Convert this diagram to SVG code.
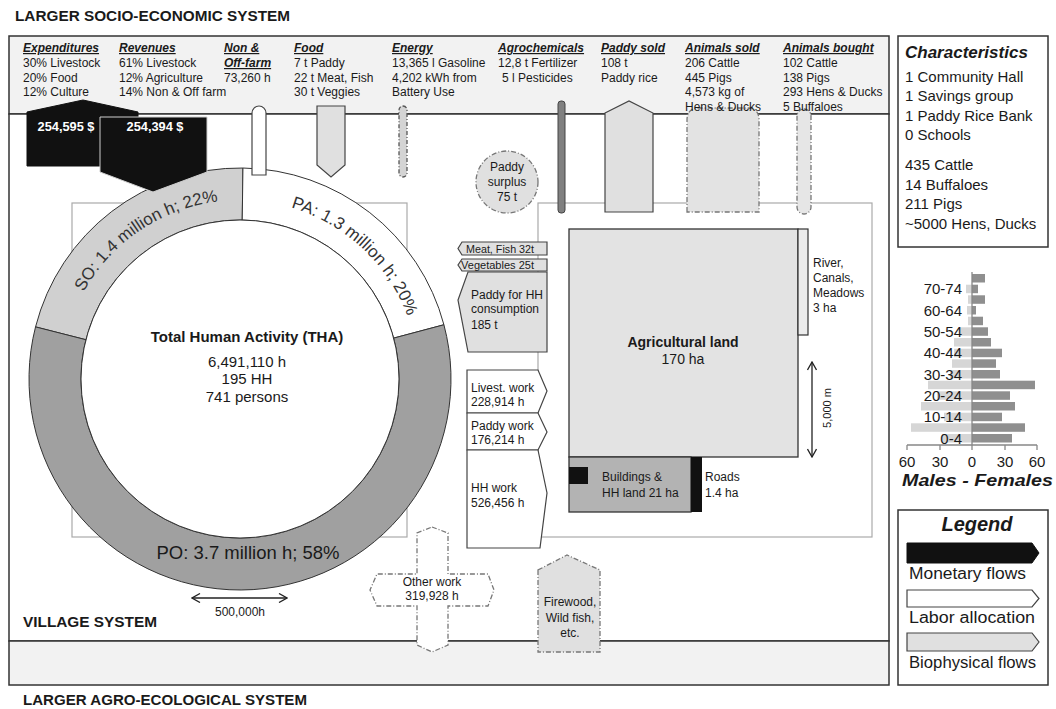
<svg xmlns="http://www.w3.org/2000/svg" width="1056" height="709" viewBox="0 0 1056 709">
<defs>
<style>
text{font-family:"Liberation Sans",Arial,sans-serif;fill:#1a1a1a}
.f12{font-size:12px}
.f11{font-size:11px}
.hd{font-size:12px;font-weight:bold;font-style:italic;text-decoration:underline}
.b{font-weight:bold}
.frame{fill:none;stroke:#333;stroke-width:1.5}
.sq{fill:none;stroke:#aaa;stroke-width:1.2}
.mon{fill:#111;stroke:#111}
.lab{fill:#fff;stroke:#444;stroke-width:1.2}
.bio{fill:#e0e0e0;stroke:#444;stroke-width:1.2}
.dash{stroke:#777;stroke-width:1.3;stroke-dasharray:5 2 1 2}
.ch{font-size:15px}
.pyl{font-size:15px;text-anchor:end}
.tk{font-size:15px;text-anchor:middle}
.fem{fill:#8f8f8f}
.mal{fill:#d6d6d6}
.ring{font-size:17px;fill:#333}
</style>
<marker id="chev" viewBox="0 0 10 10" refX="9" refY="5" markerWidth="10" markerHeight="10" markerUnits="userSpaceOnUse" orient="auto-start-reverse">
<path d="M1,0.5 L9,5 L1,9.5" fill="none" stroke="#222" stroke-width="1.3"/>
</marker>
<path id="soPath" d="M83.45,465.78 A179,179 0 0 1 379.10,266.35"/>
<path id="paPath" d="M120.23,245.98 A179,179 0 0 1 381.05,489.21"/>
</defs>

<text x="15" y="21" class="b" font-size="15" textLength="275" lengthAdjust="spacingAndGlyphs">LARGER SOCIO-ECONOMIC SYSTEM</text>
<text x="23" y="705" class="b" font-size="14" textLength="284" lengthAdjust="spacingAndGlyphs">LARGER AGRO-ECOLOGICAL SYSTEM</text>

<g id="frame">
<rect x="9" y="36" width="880" height="78" fill="#f2f2f2" stroke="#333" stroke-width="1.5"/>
<rect x="9" y="114" width="880" height="527" fill="#fff" stroke="#333" stroke-width="1.5"/>
<rect x="9" y="641" width="880" height="44" fill="#f2f2f2" stroke="#333" stroke-width="1.5"/>
</g>

<g id="connectors">
<rect class="sq" x="72" y="203" width="335" height="334"/>
<rect class="sq" x="538" y="203" width="334" height="334"/>
<line x1="192" y1="598" x2="287" y2="598" stroke="#222" stroke-width="1.3" marker-start="url(#chev)" marker-end="url(#chev)"/>
<line x1="812" y1="362" x2="812" y2="457" stroke="#222" stroke-width="1.3" marker-start="url(#chev)" marker-end="url(#chev)"/>
</g>
<text x="240" y="616" class="f12" text-anchor="middle">500,000h</text>
<text transform="translate(831,408) rotate(-90)" class="f11" text-anchor="middle">5,000 m</text>
<text x="23" y="627" class="b" font-size="15" textLength="134" lengthAdjust="spacingAndGlyphs">VILLAGE SYSTEM</text>

<g id="tha">
<path d="M35.54,326.88 A211,211 0 0 1 242.95,168.02 L242.22,220.02 A159,159 0 0 0 85.93,339.73 Z" fill="#d0d0d0" stroke="#333" stroke-width="1"/>
<path d="M242.95,168.02 A211,211 0 0 1 443.91,324.75 L393.66,338.12 A159,159 0 0 0 242.22,220.02 Z" fill="#fff" stroke="#333" stroke-width="1"/>
<path d="M443.91,324.75 A211,211 0 1 1 35.54,326.88 L85.93,339.73 A159,159 0 1 0 393.66,338.12 Z" fill="#a0a0a0" stroke="#333" stroke-width="1"/>
<circle cx="240" cy="379" r="159" fill="#fff" stroke="#333" stroke-width="1"/>
<text class="ring"><textPath href="#soPath" startOffset="50%" text-anchor="middle">SO: 1.4 million h; 22%</textPath></text>
<text class="ring"><textPath href="#paPath" startOffset="50%" text-anchor="middle">PA: 1.3 million h; 20%</textPath></text>
<text x="248" y="559" font-size="19" fill="#333" text-anchor="middle" textLength="183" lengthAdjust="spacingAndGlyphs">PO: 3.7 million h; 58%</text>
<text x="247" y="342" font-size="15" class="b" text-anchor="middle">Total Human Activity (THA)</text>
<text x="247" y="367" font-size="15" text-anchor="middle">6,491,110 h</text>
<text x="247" y="384" font-size="15" text-anchor="middle">195 HH</text>
<text x="247" y="402" font-size="15" text-anchor="middle">741 persons</text>
</g>

<g id="expenditures-flow">
<polygon class="mon" points="27,112 83,100 138,112 138,166 27,166"/>
<text x="66" y="131" font-size="12" class="b" style="fill:#fff" text-anchor="middle" textLength="57" lengthAdjust="spacingAndGlyphs">254,595 $</text>
</g>
<g id="revenues-flow">
<polygon points="100,117 207,117 207,172 153,192 100,172" fill="#111" stroke="#cfcfcf" stroke-width="1"/>
<text x="155" y="131" font-size="12" class="b" style="fill:#fff" text-anchor="middle" textLength="57" lengthAdjust="spacingAndGlyphs">254,394 $</text>
</g>
<g id="offfarm-flow">
<path class="lab" d="M252,175 L252,113 A7,7 0 0 1 266,113 L266,175 Z"/>
</g>
<g id="food-flow">
<polygon class="bio" points="317,106 345,106 345,165 331,177 317,165"/>
</g>
<g id="energy-flow">
<rect x="399" y="106" width="8" height="71" rx="4" fill="#d4d4d4" stroke="#555" stroke-width="1.3" stroke-dasharray="4 2 1 2"/>
</g>
<g id="agrochem-flow">
<rect x="558" y="101" width="7" height="112" rx="3" fill="#808080" stroke="#444" stroke-width="1"/>
</g>
<g id="paddysold-flow">
<polygon class="bio" points="605,113 629,101 653,113 653,212 605,212" stroke-width="1.5"/>
</g>
<g id="animalssold-flow">
<path d="M687,212 L687,120 Q687,108 699,108 L747,108 Q759,108 759,120 L759,212 Z" fill="#e3e3e3" class="dash"/>
</g>
<g id="animalsbought-flow">
<rect x="797" y="109" width="14" height="105" rx="7" fill="#e6e6e6" class="dash"/>
</g>

<g id="top-band-text">
<text x="23" y="52" class="hd">Expenditures</text>
<text x="23" y="66.5" class="f12">30% Livestock</text>
<text x="23" y="81.5" class="f12">20% Food</text>
<text x="23" y="96" class="f12">12% Culture</text>
<text x="119" y="52" class="hd">Revenues</text>
<text x="119" y="66.5" class="f12">61% Livestock</text>
<text x="119" y="81.5" class="f12">12% Agriculture</text>
<text x="119" y="96" class="f12">14% Non &amp; Off farm</text>
<text x="224" y="52" class="hd">Non &amp;</text>
<text x="224" y="67" class="hd">Off-farm</text>
<text x="224" y="82" class="f12">73,260 h</text>
<text x="294" y="52" class="hd">Food</text>
<text x="294" y="67" class="f12">7 t Paddy</text>
<text x="294" y="82" class="f12">22 t Meat, Fish</text>
<text x="294" y="96" class="f12">30 t Veggies</text>
<text x="392" y="52" class="hd">Energy</text>
<text x="392" y="67" class="f12">13,365 l Gasoline</text>
<text x="392" y="82" class="f12">4,202 kWh from</text>
<text x="392" y="96" class="f12">Battery Use</text>
<text x="498" y="52" class="hd">Agrochemicals</text>
<text x="498" y="67" class="f12">12,8 t Fertilizer</text>
<text x="502" y="82" class="f12">5 l Pesticides</text>
<text x="601" y="52" class="hd">Paddy sold</text>
<text x="601" y="67" class="f12">108 t</text>
<text x="601" y="82" class="f12">Paddy rice</text>
<text x="685" y="52" class="hd">Animals sold</text>
<text x="685" y="67" class="f12">206 Cattle</text>
<text x="685" y="82" class="f12">445 Pigs</text>
<text x="685" y="96" class="f12">4,573 kg of</text>
<text x="685" y="111" class="f12">Hens &amp; Ducks</text>
<text x="783" y="52" class="hd">Animals bought</text>
<text x="783" y="67" class="f12">102 Cattle</text>
<text x="783" y="82" class="f12">138 Pigs</text>
<text x="783" y="96" class="f12">293 Hens &amp; Ducks</text>
<text x="783" y="111" class="f12">5 Buffaloes</text>
</g>

<g id="paddy-surplus">
<circle cx="507" cy="182" r="31" fill="#e0e0e0" class="dash" stroke="#555"/>
<text x="507" y="171" class="f12" text-anchor="middle">Paddy</text>
<text x="507" y="186" class="f12" text-anchor="middle">surplus</text>
<text x="507" y="201" class="f12" text-anchor="middle">75 t</text>
</g>

<g id="meat-fish">
<polygon class="bio" points="462,242 547,242 547,255 462,255 458,248.5"/>
<text x="466" y="252.5" font-size="10" textLength="68" lengthAdjust="spacingAndGlyphs">Meat, Fish 32t</text>
</g>
<g id="vegetables">
<polygon class="bio" points="462,259 547,259 547,271 462,271 458,265"/>
<text x="461" y="269" font-size="10" textLength="73" lengthAdjust="spacingAndGlyphs">Vegetables 25t</text>
</g>
<g id="paddy-hh">
<polygon class="bio" points="468,272 547,272 547,352 468,352 458,300"/>
<text x="471" y="299" class="f12">Paddy for HH</text>
<text x="471" y="313" class="f12">consumption</text>
<text x="471" y="329" class="f12">185 t</text>
</g>
<g id="livest-work">
<polygon class="lab" points="467,370 538,370 547,391 538,413 467,413"/>
<text x="471" y="392" class="f12">Livest. work</text>
<text x="471" y="406" class="f12">228,914 h</text>
</g>
<g id="paddy-work">
<polygon class="lab" points="467,413 538,413 547,432 538,450 467,450"/>
<text x="471" y="430" class="f12">Paddy work</text>
<text x="471" y="444" class="f12">176,214 h</text>
</g>
<g id="hh-work">
<polygon class="lab" points="467,450 538,450 547,493 540,548 467,548"/>
<text x="471" y="492" class="f12">HH work</text>
<text x="471" y="507" class="f12">526,456 h</text>
</g>

<g id="other-work">
<polygon fill="#fff" class="dash" points="432,527 448,533 448,574 488,574 494,590 488,606 448,606 448,645 432,652 417,645 417,606 377,606 370,590 377,574 417,574 417,533"/>
<text x="432" y="586" class="f12" text-anchor="middle">Other work</text>
<text x="432" y="600" class="f12" text-anchor="middle">319,928 h</text>
</g>

<g id="firewood">
<polygon fill="#e0e0e0" class="dash" stroke="#555" points="538,570 567,555 600,570 600,652 538,652"/>
<text x="570" y="606" class="f12" text-anchor="middle">Firewood,</text>
<text x="570" y="622" class="f12" text-anchor="middle">Wild fish,</text>
<text x="570" y="637" class="f12" text-anchor="middle">etc.</text>
</g>

<g id="agricultural-land">
<rect x="569" y="229" width="229" height="228" fill="#e3e3e3" stroke="#333" stroke-width="1.3"/>
<text x="683" y="347" font-size="14" class="b" text-anchor="middle">Agricultural land</text>
<text x="683" y="364" font-size="14" text-anchor="middle">170 ha</text>
</g>
<g id="river">
<rect x="798" y="229" width="10" height="106" fill="#ececec" stroke="#333" stroke-width="1.2"/>
<text x="813" y="267" class="f12">River,</text>
<text x="813" y="282" class="f12">Canals,</text>
<text x="813" y="297" class="f12">Meadows</text>
<text x="813" y="312" class="f12">3 ha</text>
</g>
<g id="buildings">
<rect x="569" y="457" width="122" height="55" fill="#b3b3b3" stroke="#333" stroke-width="1.3"/>
<rect x="569" y="467" width="19" height="17" fill="#111"/>
<text x="602" y="481" class="f12">Buildings &amp;</text>
<text x="602" y="497" class="f12">HH land 21 ha</text>
</g>
<g id="roads">
<rect x="691" y="457" width="11" height="55" fill="#111"/>
<text x="705" y="481" class="f12">Roads</text>
<text x="705" y="497" class="f12">1.4 ha</text>
</g>

<g id="characteristics">
<rect x="898" y="36" width="150" height="211" class="frame"/>
<text x="905" y="58" font-size="17" class="b" font-style="italic">Characteristics</text>
<text x="905" y="82" class="ch">1 Community Hall</text>
<text x="905" y="101" class="ch">1 Savings group</text>
<text x="905" y="121" class="ch">1 Paddy Rice Bank</text>
<text x="905" y="140" class="ch">0 Schools</text>
<text x="905" y="170" class="ch">435 Cattle</text>
<text x="905" y="190" class="ch">14 Buffaloes</text>
<text x="905" y="209" class="ch">211 Pigs</text>
<text x="905" y="229" class="ch">~5000 Hens, Ducks</text>
</g>

<g id="pyramid">
<rect class="fem" x="972" y="274" width="13" height="8.5"/>
<rect class="fem" x="972" y="284.7" width="6" height="8.5"/>
<rect class="fem" x="972" y="295.3" width="13" height="8.5"/>
<rect class="fem" x="972" y="306" width="4" height="8.5"/>
<rect class="fem" x="972" y="316.7" width="11" height="8.5"/>
<rect class="fem" x="972" y="327.3" width="16" height="8.5"/>
<rect class="fem" x="972" y="338" width="19" height="8.5"/>
<rect class="fem" x="972" y="348.7" width="30" height="8.5"/>
<rect class="fem" x="972" y="359.3" width="24" height="8.5"/>
<rect class="fem" x="972" y="370" width="28" height="8.5"/>
<rect class="fem" x="972" y="380.7" width="63" height="8.5"/>
<rect class="fem" x="972" y="391.3" width="38" height="8.5"/>
<rect class="fem" x="972" y="402" width="43" height="8.5"/>
<rect class="fem" x="972" y="412.7" width="30" height="8.5"/>
<rect class="fem" x="972" y="423.3" width="53" height="8.5"/>
<rect class="fem" x="972" y="434" width="40" height="8.5"/>
<rect class="mal" x="966" y="284.7" width="6" height="8.5"/>
<rect class="mal" x="968" y="295.3" width="4" height="8.5"/>
<rect class="mal" x="967" y="306" width="5" height="8.5"/>
<rect class="mal" x="968" y="316.7" width="4" height="8.5"/>
<rect class="mal" x="960" y="327.3" width="12" height="8.5"/>
<rect class="mal" x="954" y="338" width="18" height="8.5"/>
<rect class="mal" x="954" y="348.7" width="18" height="8.5"/>
<rect class="mal" x="952" y="359.3" width="20" height="8.5"/>
<rect class="mal" x="950" y="370" width="22" height="8.5"/>
<rect class="mal" x="928" y="380.7" width="44" height="8.5"/>
<rect class="mal" x="937" y="391.3" width="35" height="8.5"/>
<rect class="mal" x="921" y="402" width="51" height="8.5"/>
<rect class="mal" x="944" y="412.7" width="28" height="8.5"/>
<rect class="mal" x="911" y="423.3" width="61" height="8.5"/>
<rect class="mal" x="942" y="434" width="30" height="8.5"/>
<path d="M972,272 V445 M907,445 H1037 M907,445 v5 M940,445 v5 M972,445 v5 M1005,445 v5 M1037,445 v5" fill="none" stroke="#888" stroke-width="1.3"/>
<text x="962" y="294" class="pyl">70-74</text>
<text x="962" y="315.5" class="pyl">60-64</text>
<text x="962" y="336.8" class="pyl">50-54</text>
<text x="962" y="358.2" class="pyl">40-44</text>
<text x="962" y="379.5" class="pyl">30-34</text>
<text x="962" y="400.8" class="pyl">20-24</text>
<text x="962" y="422.2" class="pyl">10-14</text>
<text x="962" y="443.5" class="pyl">0-4</text>
<text x="907" y="467" class="tk">60</text>
<text x="940" y="467" class="tk">30</text>
<text x="972" y="467" class="tk">0</text>
<text x="1005" y="467" class="tk">30</text>
<text x="1037" y="467" class="tk">60</text>
<text x="902" y="486" font-size="17" class="b" font-style="italic" textLength="151" lengthAdjust="spacingAndGlyphs">Males  -  Females</text>
</g>

<g id="legend">
<rect x="898" y="510" width="150" height="175" class="frame"/>
<text x="977" y="531" font-size="20" class="b" font-style="italic" text-anchor="middle">Legend</text>
<polygon class="mon" points="907,543 1032,543 1039,553 1032,563 907,563"/>
<text x="909" y="579" font-size="16" textLength="117" lengthAdjust="spacingAndGlyphs">Monetary flows</text>
<polygon class="lab" points="907,590 1032,590 1039,598.5 1032,607 907,607"/>
<text x="909" y="623" font-size="16" textLength="126" lengthAdjust="spacingAndGlyphs">Labor allocation</text>
<polygon class="bio" points="907,633 1032,633 1039,642 1032,651 907,651"/>
<text x="909" y="668" font-size="16" textLength="127" lengthAdjust="spacingAndGlyphs">Biophysical flows</text>
</g>
</svg>
